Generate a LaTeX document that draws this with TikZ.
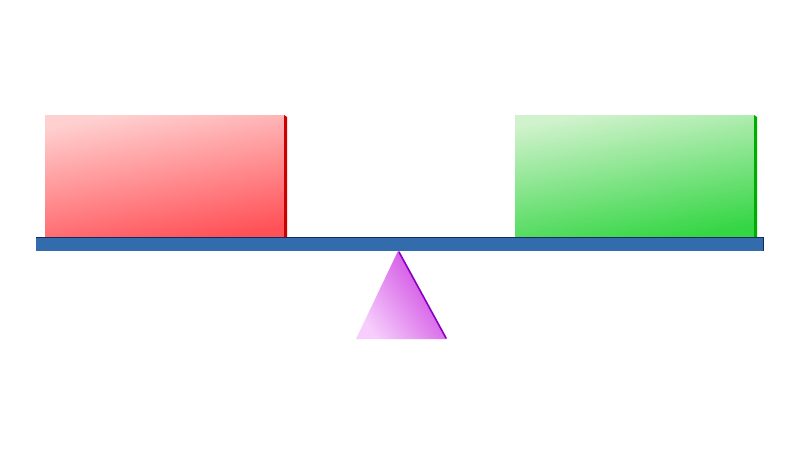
\documentclass[tikz,border=0pt]{standalone}
\usetikzlibrary{calc}
\definecolor{boxred}{RGB}{255,82,88}
\definecolor{boxredmid}{RGB}{255,140,145}
\definecolor{boxredlt}{RGB}{255,208,208}
\definecolor{edgered}{RGB}{205,0,0}
\definecolor{boxgreen}{RGB}{52,214,68}
\definecolor{boxgreenmid}{RGB}{130,230,130}
\definecolor{boxgreenlt}{RGB}{208,242,204}
\definecolor{edgegreen}{RGB}{0,172,0}
\definecolor{beamblue}{RGB}{50,108,172}
\definecolor{beamdark}{RGB}{18,42,92}
\definecolor{pivlt}{RGB}{246,205,252}
\definecolor{pivdk}{RGB}{204,60,224}
\definecolor{pivedge}{RGB}{136,0,196}
\tikzset{
  redblock/.style={top color=boxredlt, middle color=boxredmid, bottom color=boxred, shading angle=10},
  greenblock/.style={top color=boxgreenlt, middle color=boxgreenmid, bottom color=boxgreen, shading angle=10},
  beam/.style={fill=beamblue},
  beamedge/.style={draw=beamdark, line width=0.8pt},
  pivot/.style={left color=pivlt, right color=pivdk, shading angle=125},
}

\begin{document}
\begin{tikzpicture}[x=1pt, y=-1pt]
  \useasboundingbox[fill=white] (0,0) rectangle (800,458);
%---------------- blocks ----------------
  % left block
  \shade[redblock] (45,115) rectangle (284,237);
  \fill[edgered] (284,115) -- (287,117) -- (287,237) -- (284,237) -- cycle;
  % right block
  \shade[greenblock] (515,115) rectangle (754,237);
  \fill[edgegreen] (754,115) -- (757,117) -- (757,237) -- (754,237) -- cycle;
%---------------- lever ----------------
  \fill[beam] (36,237.5) rectangle (763,251);
  \draw[beamedge] (36,237.5) -- (763,237.5) -- (763,251);
%---------------- fulcrum ----------------
  \shade[pivot] (398,251) -- (447,339) -- (356,339) -- cycle;
  \draw[pivedge, line width=1.6pt, line cap=round] (399,252) -- (446,338);
\end{tikzpicture}
\end{document}
